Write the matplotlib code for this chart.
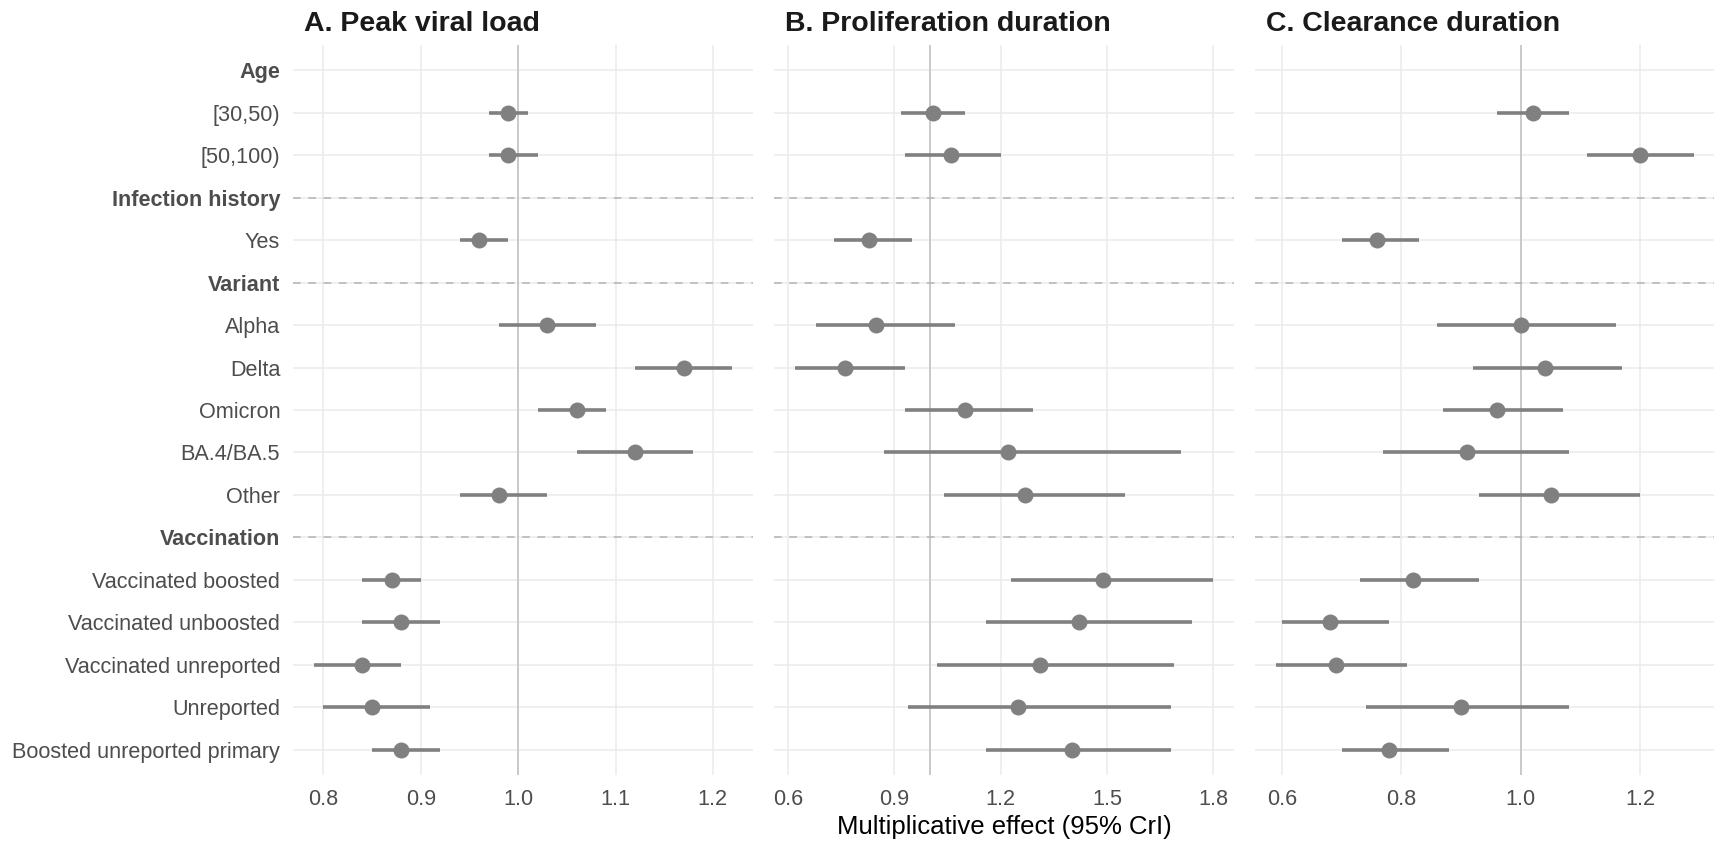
import numpy as np
import matplotlib
matplotlib.use("Agg")
import matplotlib.pyplot as plt

plt.rcParams['font.family'] = ['Liberation Sans', 'DejaVu Sans']

# ---- data ----
row_labels = ["Age", "[30,50)", "[50,100)", "Infection history", "Yes", "Variant",
              "Alpha", "Delta", "Omicron", "BA.4/BA.5", "Other", "Vaccination",
              "Vaccinated boosted", "Vaccinated unboosted", "Vaccinated unreported",
              "Unreported", "Boosted unreported primary"]
is_header = [True, False, False, True, False, True,
             False, False, False, False, False, True,
             False, False, False, False, False]
nan = np.nan

titles = ["A. Peak viral load", "B. Proliferation duration", "C. Clearance duration"]

peak_mid = [nan, 0.99, 0.99, nan, 0.96, nan, 1.03, 1.17, 1.06, 1.12, 0.98, nan, 0.87, 0.88, 0.84, 0.85, 0.88]
peak_lo  = [nan, 0.97, 0.97, nan, 0.94, nan, 0.98, 1.12, 1.02, 1.06, 0.94, nan, 0.84, 0.84, 0.79, 0.80, 0.85]
peak_hi  = [nan, 1.01, 1.02, nan, 0.99, nan, 1.08, 1.22, 1.09, 1.18, 1.03, nan, 0.90, 0.92, 0.88, 0.91, 0.92]

prol_mid = [nan, 1.01, 1.06, nan, 0.83, nan, 0.85, 0.76, 1.10, 1.22, 1.27, nan, 1.49, 1.42, 1.31, 1.25, 1.40]
prol_lo  = [nan, 0.92, 0.93, nan, 0.73, nan, 0.68, 0.62, 0.93, 0.87, 1.04, nan, 1.23, 1.16, 1.02, 0.94, 1.16]
prol_hi  = [nan, 1.10, 1.20, nan, 0.95, nan, 1.07, 0.93, 1.29, 1.71, 1.55, nan, 1.80, 1.74, 1.69, 1.68, 1.68]

clear_mid = [nan, 1.02, 1.20, nan, 0.76, nan, 1.00, 1.04, 0.96, 0.91, 1.05, nan, 0.82, 0.68, 0.69, 0.90, 0.78]
clear_lo  = [nan, 0.96, 1.11, nan, 0.70, nan, 0.86, 0.92, 0.87, 0.77, 0.93, nan, 0.73, 0.60, 0.59, 0.74, 0.70]
clear_hi  = [nan, 1.08, 1.29, nan, 0.83, nan, 1.16, 1.17, 1.07, 1.08, 1.20, nan, 0.93, 0.78, 0.81, 1.08, 0.88]

x_ticks = [[0.8, 0.9, 1.0, 1.1, 1.2],
           [0.6, 0.9, 1.2, 1.5, 1.8],
           [0.6, 0.8, 1.0, 1.2]]
x_title = "Multiplicative effect (95% CrI)"

panels = [(peak_mid, peak_lo, peak_hi),
          (prol_mid, prol_lo, prol_hi),
          (clear_mid, clear_lo, clear_hi)]

# ---- figure ----
W, H = 1715, 843
fig = plt.figure(figsize=(W / 100, H / 100), dpi=100)
fig.patch.set_facecolor("white")

lefts = [292.7, 774.0, 1255.0]
rights = [753.3, 1234.3, 1715.0]
top_px, bot_px = 45.0, 775.0

n = len(row_labels)
ypos = np.arange(n)
label_col = "#4D4D4D"
mark_col = "#808080"

for i, (mid, lo, hi) in enumerate(panels):
    ax = fig.add_axes([lefts[i] / W, (H - bot_px) / H,
                       (rights[i] - lefts[i]) / W, (bot_px - top_px) / H])
    mid = np.array(mid); lo = np.array(lo); hi = np.array(hi)
    dmin = np.nanmin(lo); dmax = np.nanmax(hi)
    pad = (dmax - dmin) * 0.05
    ax.set_xlim(dmin - pad, dmax + pad)
    ax.set_ylim(n - 1 + 0.6, -0.6)

    for s in ax.spines.values():
        s.set_visible(False)
    ax.set_xticks(x_ticks[i])
    ax.set_xticklabels([f"{t:.1f}" for t in x_ticks[i]])
    ax.set_yticks(ypos)
    if i == 0:
        ax.set_yticklabels(row_labels)
        for lab, hd in zip(ax.get_yticklabels(), is_header):
            if hd:
                lab.set_fontweight("bold")
    else:
        ax.set_yticklabels([])
    ax.tick_params(axis="both", length=0, labelsize=15.6, colors=label_col)
    ax.tick_params(axis="y", pad=9)
    ax.tick_params(axis="x", pad=10)
    ax.grid(True, color="#EBEBEB", linewidth=1.1, zorder=0)
    ax.set_axisbelow(True)

    # reference line
    ax.axvline(1.0, color="#C9C9C9", linewidth=1.4, zorder=1)
    # header separators (except the first)
    for y, hd in zip(ypos, is_header):
        if hd and y > 0:
            ax.axhline(y, color="#B3B3B3", linewidth=1.1, linestyle=(0, (5, 5)), zorder=1)

    ax.hlines(ypos, lo, hi, color=mark_col, linewidth=2.6, zorder=3)
    ax.plot(mid, ypos, "o", color=mark_col, markersize=11.5, zorder=4, markeredgewidth=0)

    fig.text((lefts[i] + 11) / W, 1 - 24 / H, titles[i], fontsize=20.5,
             fontweight="bold", color="#1A1A1A", ha="left", va="center")

fig.text((lefts[1] + rights[1]) / 2 / W, 1 - 827 / H, x_title, fontsize=18.5,
         color="black", ha="center", va="center")

fig.savefig("out.png", dpi=100)
